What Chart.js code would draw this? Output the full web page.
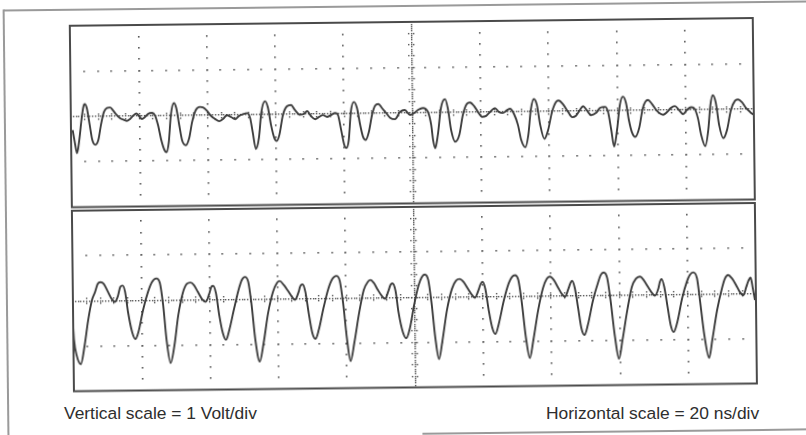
<!DOCTYPE html>
<html>
<head>
<meta charset="utf-8">
<script src="https://cdn.jsdelivr.net/npm/chart.js@4/dist/chart.umd.min.js"></script>
<style>
  html, body { margin:0; padding:0; background:#fff; width:806px; height:435px; overflow:hidden; }
  #wrap { position:absolute; left:0; top:0; width:806px; height:435px; transform: rotate(-0.65deg); transform-origin: 403px 217.5px; }
  canvas { position:absolute; }
  .fl { position:absolute; background:#9a9a9a; }
  .lbl { position:absolute; font-family:"Liberation Sans", Arial, Helvetica, sans-serif; font-size:17.4px; color:#2e2e2e; white-space:nowrap; line-height:1; }
</style>
</head>
<body>
<div id="wrap">
  <div class="fl" style="left:6px; top:5px; width:805px; height:2px;"></div>
  <div class="fl" style="left:5px; top:5px; width:2px; height:440px;"></div>
  <div class="fl" style="left:420px; top:433px; width:390px; height:2px;"></div>
  <canvas id="top" width="703" height="202" style="left:62px; top:12px;"></canvas>
  <canvas id="bot" width="703" height="201" style="left:62px; top:197px;"></canvas>
</div>
<div class="lbl" style="left:64px; top:405px;">Vertical scale = 1 Volt/div</div>
<div class="lbl" style="left:546px; top:405px;">Horizontal scale = 20 ns/div</div>
<script>
// Time axis: 10 divisions x 20 ns; vertical: 4 divisions x 1 V
const timeDivs = 10, nsPerDiv = 20;
const voltDivs = 4, voltsPerDiv = 1;

// Upper trace (time in ns, volts)
const topTime = [0.5,1.1,1.7,2.4,3.1,3.7,4.1,4.7,5.5,6.2,7.1,8.0,8.8,9.7,10.6,11.5,12.3,13.2,14.4,15.6,16.4,17.3,18.2,19.2,20.0,20.8,21.7,22.6,23.8,24.6,25.5,26.4,27.3,27.9,28.6,29.3,30.2,30.9,31.7,32.5,33.6,34.6,35.5,36.6,37.8,38.7,39.9,41.0,42.2,43.4,44.6,45.7,46.9,48.1,49.2,50.4,51.6,52.5,53.2,54.1,55.0,55.8,56.9,57.7,58.6,59.5,60.2,61.0,62.1,63.3,64.5,65.6,67.1,68.3,69.2,70.3,71.5,72.7,73.8,75.0,76.2,77.4,78.2,79.1,80.0,80.6,81.3,82.0,82.9,83.8,84.7,85.5,86.3,87.2,88.2,89.1,90.1,91.1,92.3,93.5,94.9,96.4,97.8,99.3,100.5,101.7,103.1,104.6,105.5,106.0,106.6,107.4,108.4,109.6,110.4,111.3,112.5,113.7,114.8,116.0,116.9,118.1,119.2,120.4,121.6,122.7,124.2,125.4,126.5,127.7,128.6,129.8,130.9,131.8,133.0,133.9,134.7,135.6,136.5,137.4,138.6,139.7,140.9,142.1,142.9,144.1,145.6,146.8,147.9,149.1,150.0,151.1,152.3,153.8,155.0,156.4,157.3,158.2,159.0,159.9,160.8,161.7,162.6,163.4,164.3,165.2,166.4,167.5,169.0,170.2,171.6,173.4,174.6,175.7,176.9,178.1,179.3,180.4,181.6,182.5,183.6,184.5,185.7,186.6,187.3,188.0,188.9,189.8,191.0,192.1,193.3,194.5,195.4,196.5,197.7,198.9,200.0];
const topVolts = [-0.30,-0.58,-0.81,-0.52,-0.08,0.21,0.27,0.18,-0.19,-0.52,-0.63,-0.52,-0.19,0.09,0.18,0.19,0.13,0.04,-0.05,-0.09,-0.11,-0.07,0.00,0.05,-0.01,-0.07,-0.03,0.04,0.06,0.01,-0.21,-0.54,-0.76,-0.81,-0.59,0.01,0.27,0.16,-0.21,-0.55,-0.66,-0.50,-0.15,0.11,0.18,0.17,0.09,-0.02,-0.09,-0.14,-0.09,-0.01,-0.05,-0.10,-0.03,0.01,0.03,-0.08,-0.39,-0.76,-0.52,0.05,0.29,0.16,-0.24,-0.52,-0.59,-0.46,-0.02,0.17,0.20,0.09,-0.02,0.00,0.06,-0.05,-0.12,-0.07,-0.03,-0.07,-0.03,0.01,-0.03,-0.36,-0.70,-0.76,-0.59,0.03,0.25,0.12,-0.26,-0.52,-0.59,-0.42,-0.04,0.16,0.20,0.11,0.00,-0.11,-0.14,0.02,0.06,-0.05,-0.01,0.06,0.10,0.01,-0.28,-0.61,-0.79,-0.50,0.10,0.29,0.09,-0.39,-0.65,-0.50,-0.06,0.18,0.21,0.13,0.00,-0.11,-0.09,-0.01,0.08,-0.01,-0.03,0.03,0.06,-0.06,-0.30,-0.63,-0.79,-0.52,0.03,0.27,0.14,-0.30,-0.61,-0.42,-0.02,0.20,0.23,0.15,-0.02,-0.14,-0.11,0.02,0.10,0.01,-0.10,-0.05,0.06,0.08,-0.03,-0.43,-0.80,-0.43,0.12,0.30,0.16,-0.22,-0.50,-0.59,-0.39,0.04,0.22,0.13,-0.02,-0.11,-0.05,0.04,0.08,-0.01,-0.10,-0.01,0.05,0.03,-0.19,-0.56,-0.81,-0.46,0.09,0.31,0.14,-0.35,-0.64,-0.46,-0.02,0.18,0.21,0.15,0.02,-0.07,-0.14];

// Lower trace (time in ns, volts)
const bottomTime = [0.0,0.2,0.9,2.1,3.3,4.4,5.6,6.5,7.3,8.1,9.1,10.3,11.4,12.3,13.2,13.9,14.6,15.3,16.1,17.3,18.2,19.1,20.5,22.0,23.2,24.5,25.5,26.4,27.3,28.4,29.6,30.8,32.2,33.4,34.5,35.5,36.6,37.8,38.9,39.9,40.6,41.1,41.9,42.8,43.8,44.7,45.7,47.2,48.6,49.5,50.4,51.4,52.3,53.3,54.5,55.7,57.1,58.6,59.8,60.6,61.8,63.0,64.2,65.0,66.1,66.6,67.3,68.1,69.0,70.0,70.9,71.9,73.4,74.8,76.0,77.2,78.2,79.1,80.1,81.1,82.3,83.8,85.2,86.4,87.2,88.2,89.3,90.5,91.4,92.4,93.0,93.6,94.5,95.3,96.5,97.5,98.6,99.9,101.3,102.2,103.1,104.1,105.0,106.0,107.0,108.1,109.5,111.0,112.2,113.3,114.5,115.7,116.9,117.7,118.8,119.4,120.0,120.8,121.7,122.7,123.6,124.6,126.2,127.7,128.6,129.5,130.5,131.4,132.5,133.6,134.7,136.2,137.7,138.8,139.7,140.9,142.0,143.2,144.1,145.1,145.7,146.2,147.0,147.9,148.8,149.7,150.7,152.3,153.8,154.6,155.5,156.5,157.4,158.6,159.7,160.8,162.3,163.7,164.9,166.1,167.2,168.4,169.6,170.4,171.5,171.9,172.4,173.2,174.1,175.0,175.8,176.9,178.4,179.8,180.7,181.7,182.8,183.6,184.8,186.1,187.1,188.6,190.1,190.9,191.9,193.0,194.2,195.3,196.3,197.2,197.8,198.5,199.1,199.7];
const bottomVolts = [-0.58,-0.86,-1.20,-1.40,-0.98,-0.43,0.02,0.19,0.37,0.41,0.37,0.19,0.03,-0.03,0.10,0.30,0.33,0.19,-0.26,-0.72,-0.86,-0.70,-0.22,0.18,0.40,0.48,0.38,-0.11,-0.89,-1.40,-1.00,-0.34,0.15,0.35,0.38,0.32,0.17,0.01,-0.05,0.12,0.28,0.30,0.14,-0.35,-0.75,-0.90,-0.68,-0.20,0.22,0.42,0.49,0.38,-0.13,-0.91,-1.39,-0.98,-0.32,0.15,0.35,0.39,0.30,0.17,0.03,-0.03,0.14,0.27,0.31,0.14,-0.33,-0.77,-0.90,-0.70,-0.20,0.20,0.42,0.49,0.38,-0.11,-0.89,-1.40,-0.98,-0.32,0.17,0.35,0.39,0.32,0.17,0.03,-0.03,0.14,0.27,0.31,0.14,-0.33,-0.77,-0.91,-0.68,-0.17,0.27,0.44,0.50,0.38,-0.13,-0.91,-1.38,-0.96,-0.29,0.17,0.35,0.39,0.32,0.17,0.03,-0.03,0.14,0.27,0.32,0.16,-0.30,-0.70,-0.84,-0.62,-0.09,0.29,0.42,0.46,0.35,-0.13,-0.91,-1.38,-0.98,-0.32,0.17,0.37,0.42,0.34,0.19,0.03,-0.03,0.14,0.27,0.32,0.16,-0.28,-0.73,-0.88,-0.66,-0.11,0.27,0.44,0.50,0.38,-0.11,-0.93,-1.42,-1.00,-0.34,0.17,0.35,0.40,0.32,0.17,0.03,-0.03,0.14,0.27,0.34,0.16,-0.28,-0.70,-0.84,-0.62,-0.09,0.27,0.42,0.48,0.35,-0.14,-0.93,-1.42,-1.02,-0.36,0.12,0.32,0.41,0.34,0.19,0.03,-0.04,0.14,0.27,0.35,0.12,-0.15];

const GRID = '#555555';
const TRACE = '#3c3c3c';

function dot(ctx, x, y, s) { ctx.fillRect(Math.round(x - s/2), Math.round(y - s/2), s, s); }

const scopePlugin = {
  id: 'scope',
  beforeDatasetsDraw(chart) {
    const { ctx, scales: { x, y } } = chart;
    const tMax = timeDivs * nsPerDiv, vMax = voltDivs * voltsPerDiv / 2;
    ctx.save();
    ctx.fillStyle = GRID;
    // vertical graticule lines (4 minor steps per volt division)
    for (let k = 1; k < timeDivs; k++) {
      const px = x.getPixelForValue(k * nsPerDiv);
      if (k === timeDivs / 2) {
        for (let m = 1; m < voltDivs * 20; m++) {
          const py = y.getPixelForValue(vMax - m * voltsPerDiv / 20);
          dot(ctx, px, py, 1.4);
          if (m % 5 === 0) { dot(ctx, px - 2.5, py, 1.4); dot(ctx, px + 2.5, py, 1.4); }
        }
      } else {
        for (let m = 1; m < voltDivs * 4; m++) {
          dot(ctx, px, y.getPixelForValue(vMax - m * voltsPerDiv / 4), 1.6);
        }
      }
    }
    // horizontal graticule lines (5 minor steps per time division)
    for (let k = 1; k < voltDivs; k++) {
      const v = vMax - k * voltsPerDiv;
      const py = y.getPixelForValue(v);
      if (k === voltDivs / 2) {
        for (let m = 1; m < timeDivs * 25; m++) {
          const px = x.getPixelForValue(m * nsPerDiv / 25);
          dot(ctx, px, py, 1.4);
          if (m % 5 === 0) { dot(ctx, px, py - 2.5, 1.4); dot(ctx, px, py + 2.5, 1.4); }
        }
      } else {
        for (let m = 1; m < timeDivs * 5; m++) {
          dot(ctx, x.getPixelForValue(m * nsPerDiv / 5), py, 1.6);
        }
      }
    }
    ctx.restore();
  },
  afterDraw(chart) {
    const { ctx, chartArea: a } = chart;
    ctx.save();
    ctx.strokeStyle = '#4a4a4a';
    ctx.lineWidth = 2;
    ctx.strokeRect(a.left, a.top, a.right - a.left, a.bottom - a.top);
    ctx.restore();
  }
};

function makeScope(id, times, volts, padBottom) {
  new Chart(document.getElementById(id), {
    type: 'line',
    data: {
      datasets: [{
        data: times.map((t, i) => ({ x: t, y: volts[i] })),
        borderColor: TRACE,
        borderWidth: 1.9,
        pointRadius: 0,
        fill: false,
        cubicInterpolationMode: 'monotone'
      }]
    },
    options: {
      responsive: false,
      animation: false,
      devicePixelRatio: 1,
      layout: { padding: { left: 10, right: 10, top: 10, bottom: padBottom } },
      plugins: { legend: { display: false }, tooltip: { enabled: false } },
      scales: {
        x: { type: 'linear', min: 0, max: timeDivs * nsPerDiv, display: false },
        y: { min: -voltDivs * voltsPerDiv / 2, max: voltDivs * voltsPerDiv / 2, display: false }
      }
    },
    plugins: [scopePlugin]
  });
}

makeScope('top', topTime, topVolts, 10.5);
makeScope('bot', bottomTime, bottomVolts, 10.5);
</script>
</body>
</html>
